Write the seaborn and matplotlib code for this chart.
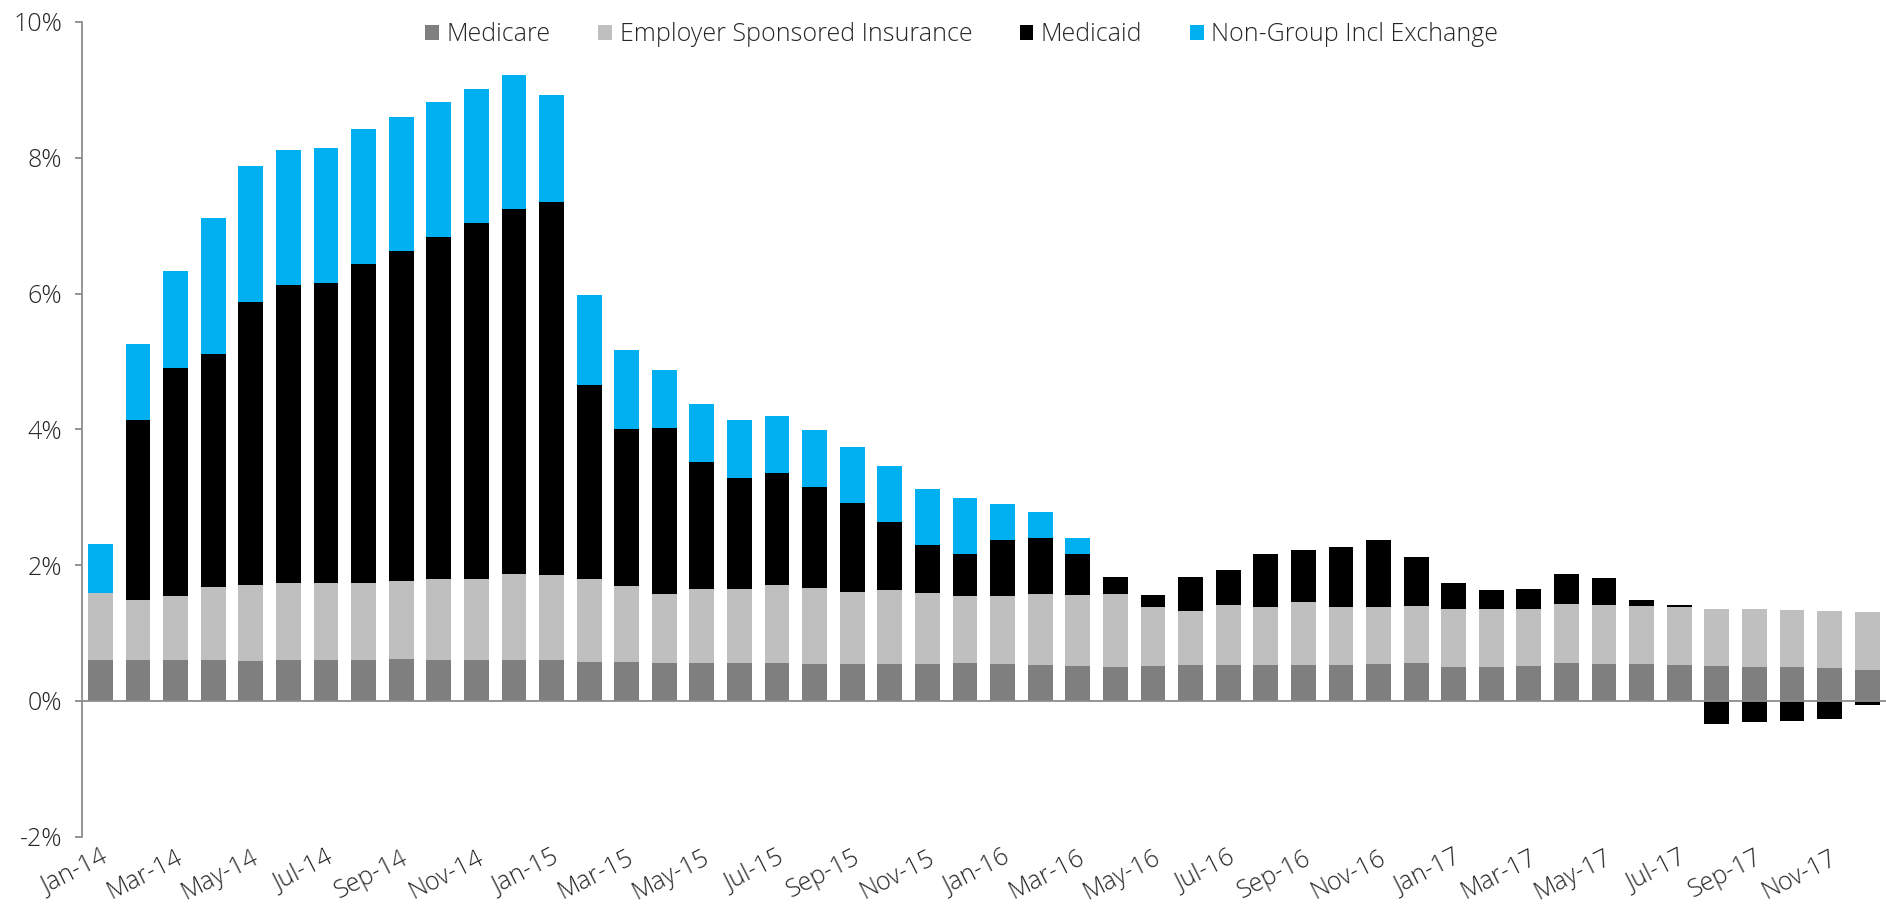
import numpy as np
import matplotlib
matplotlib.use("Agg")
import matplotlib.pyplot as plt
import seaborn as sns
from matplotlib.patches import Patch

# ---------------- data ----------------
years = ["14", "15", "16", "17"]
mons = ["Jan", "Feb", "Mar", "Apr", "May", "Jun", "Jul", "Aug", "Sep", "Oct", "Nov", "Dec"]
months = [f"{m}-{y}" for y in years for m in mons]

medicare = [0.61, 0.60, 0.60, 0.60, 0.59, 0.61, 0.61, 0.61, 0.62, 0.61, 0.61, 0.61,
            0.60, 0.58, 0.57, 0.56, 0.56, 0.56, 0.56, 0.55, 0.55, 0.54, 0.55, 0.56,
            0.54, 0.53, 0.51, 0.50, 0.51, 0.53, 0.53, 0.53, 0.53, 0.53, 0.54, 0.56,
            0.50, 0.50, 0.51, 0.56, 0.55, 0.54, 0.53, 0.51, 0.50, 0.50, 0.48, 0.46]
employer = [0.98, 0.89, 0.94, 1.08, 1.12, 1.13, 1.13, 1.13, 1.14, 1.18, 1.19, 1.26,
            1.25, 1.21, 1.12, 1.02, 1.09, 1.09, 1.15, 1.12, 1.05, 1.09, 1.04, 0.99,
            1.01, 1.05, 1.05, 1.07, 0.88, 0.80, 0.89, 0.86, 0.92, 0.85, 0.85, 0.84,
            0.86, 0.86, 0.85, 0.87, 0.86, 0.86, 0.86, 0.85, 0.85, 0.84, 0.85, 0.85]
medicaid = [0.00, 2.65, 3.37, 3.43, 4.16, 4.38, 4.41, 4.69, 4.86, 5.04, 5.24, 5.38,
            5.50, 2.86, 2.32, 2.44, 1.87, 1.64, 1.64, 1.48, 1.31, 1.00, 0.70, 0.61,
            0.82, 0.82, 0.60, 0.26, 0.17, 0.49, 0.51, 0.78, 0.77, 0.88, 0.98, 0.72,
            0.37, 0.28, 0.29, 0.44, 0.40, 0.09, 0.03, -0.34, -0.31, -0.29, -0.27, -0.06]
nongroup = [0.72, 1.11, 1.42, 2.00, 2.01, 1.99, 1.99, 1.99, 1.98, 1.99, 1.97, 1.97,
            1.58, 1.33, 1.16, 0.85, 0.85, 0.85, 0.85, 0.84, 0.83, 0.83, 0.83, 0.83,
            0.53, 0.38, 0.24, 0.00, 0.00, 0.00, 0.00, 0.00, 0.00, 0.00, 0.00, 0.00,
            0.00, 0.00, 0.00, 0.00, 0.00, 0.00, 0.00, 0.00, 0.00, 0.00, 0.00, 0.00]

series_names = ["Medicare", "Employer Sponsored Insurance", "Medicaid", "Non-Group Incl Exchange"]
colors = ["#7F7F7F", "#BFBFBF", "#000000", "#00B0F0"]
yticks = [-2, 0, 2, 4, 6, 8, 10]

# ---------------- style ----------------
sns.set_style("white")
plt.rcParams["font.family"] = ["Open Sans", "DejaVu Sans"]
plt.rcParams["font.weight"] = "light"
TXT = "#262626"
AX = "#8C8C8C"
FS = 18

fig = plt.figure(figsize=(18.86, 9.08), dpi=100)
ax = fig.add_axes([0.0433, 0.0785, 0.9567, 0.8973])

mc = np.array(medicare)
es = np.array(employer)
md = np.array(medicaid)
ng = np.array(nongroup)

top_esi = mc + es
top_mcaid = top_esi + np.clip(md, 0, None)
top_total = top_mcaid + ng
neg_mcaid = np.clip(md, None, 0)

layers = [(top_total, colors[3]), (top_mcaid, colors[2]), (top_esi, colors[1]),
          (mc, colors[0]), (neg_mcaid, colors[2])]
for vals, col in layers:
    sns.barplot(x=months, y=vals, color=col, saturation=1, width=0.66,
                errorbar=None, linewidth=0, ax=ax)

ax.set_xlim(-0.5, len(months) - 0.5)
ax.set_ylim(-2, 10)
ax.set_yticks(yticks)
ax.set_yticklabels([f"{v}%" for v in yticks])

ax.set_xticks(range(0, len(months), 2))
ax.set_xticklabels(months[::2])
ax.set_xticks(np.arange(1.5, len(months) - 2, 2), minor=True)

for s in ["top", "right"]:
    ax.spines[s].set_visible(False)
ax.spines["bottom"].set_position(("data", 0))
ax.spines["bottom"].set_color(AX)
ax.spines["bottom"].set_linewidth(1.3)
ax.spines["left"].set_color(AX)
ax.spines["left"].set_linewidth(1.3)

ax.tick_params(axis="x", which="major", length=0, pad=104, labelsize=FS, labelcolor=TXT)
ax.tick_params(axis="x", which="minor", length=5, width=1.3, color=AX, direction="out")
ax.tick_params(axis="y", which="major", length=5, width=1.3, color=AX, pad=9,
               labelsize=FS, labelcolor=TXT, left=True)
plt.setp(ax.get_xticklabels(), rotation=27, ha="right", rotation_mode="anchor")
ax.set_xlabel("")
ax.set_ylabel("")
ax.grid(False)

handles = [Patch(facecolor=c, edgecolor="none", label=n) for n, c in zip(series_names, colors)]
fig.legend(handles=handles, loc="center", bbox_to_anchor=(0.51, 0.9615), ncol=4,
           frameon=False, fontsize=FS, labelcolor=TXT, handlelength=0.55, handleheight=0.55,
           handletextpad=0.3, columnspacing=1.9)

fig.savefig("out.png", dpi=100)
